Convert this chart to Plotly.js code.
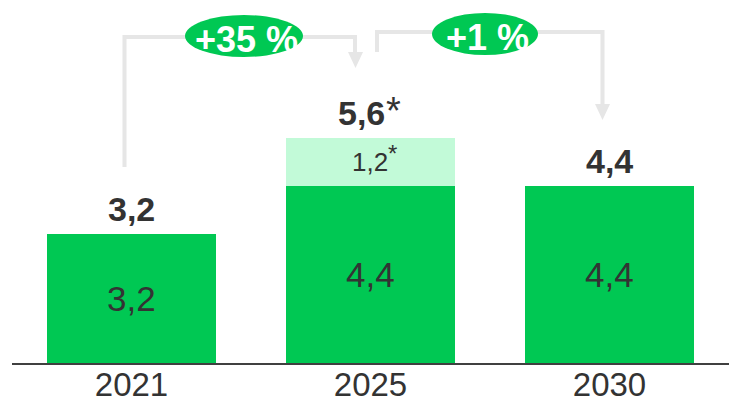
<!DOCTYPE html>
<html>
<head>
<meta charset="utf-8">
<script src="https://cdn.plot.ly/plotly-3.0.1.min.js"></script>
<style>
  html, body { margin: 0; padding: 0; background: #ffffff; }
  #chart { width: 729px; height: 403px; }
</style>
</head>
<body>
<div id="chart"></div>
<script>
// ---- data ----
const categories = ['2021', '2025', '2030'];
const baseValues = [3.2, 4.4, 4.4];
const addedValues = [0, 1.2, 0];
const totalValues = [3.2, 5.6, 4.4];
const totalMarks = ['', '*', ''];
const addedMarks = ['', '*', ''];
const growthLabels = ['+35 %', '+1 %'];

// ---- styles ----
const GREEN = '#00C853';
const LIGHT = '#C2FAD8';
const TEXT = '#333333';
const GREY = '#E6E6E6';
const FONT = 'Liberation Sans, Arial, sans-serif';

const W = 729, H = 403;
const M = {l: 12, r: 0, t: 0, b: 40};
const YMAX = 9.03;
const plotW = W - M.l - M.r, plotH = H - M.t - M.b;
// pixel -> data helpers for decorations
const X = px => (px - M.l) / (plotW / categories.length) - 0.5;
const Y = py => (H - M.b - py) / plotH * YMAX;

const fmt = v => v.toFixed(1).replace('.', ',');

const traces = [
  {type: 'bar', x: categories, y: baseValues, width: 0.707,
   marker: {color: GREEN}, hoverinfo: 'none'},
  {type: 'bar', x: categories, y: addedValues, width: 0.707,
   marker: {color: LIGHT}, hoverinfo: 'none'}
];

const annotations = [];
categories.forEach((c, i) => {
  annotations.push({xref: 'x', yref: 'y', x: i, y: baseValues[i] / 2, text: fmt(baseValues[i]),
    showarrow: false, font: {family: FONT, size: 35, color: TEXT}});
  if (addedValues[i] > 0) {
    const hasMark = !!addedMarks[i];
    annotations.push({xref: 'x', yref: 'y', x: i, y: baseValues[i] + addedValues[i] / 2,
      xshift: hasMark ? -1 : 0,
      text: fmt(addedValues[i]),
      showarrow: false, font: {family: FONT, size: 26, color: TEXT}});
    if (hasMark) {
      annotations.push({xref: 'x', yref: 'y', x: i, y: baseValues[i] + addedValues[i] / 2,
        xanchor: 'left', xshift: 15, yshift: 9, text: addedMarks[i],
        showarrow: false, font: {family: FONT, size: 24, color: TEXT}});
    }
  }
  const hasTotalMark = !!totalMarks[i];
  annotations.push({xref: 'x', yref: 'y', x: i, y: totalValues[i], yanchor: 'bottom', yshift: 4,
    xshift: hasTotalMark ? -9 : 0,
    text: '<b>' + fmt(totalValues[i]) + '</b>',
    showarrow: false, font: {family: FONT, size: 34, color: TEXT}});
  if (hasTotalMark) {
    annotations.push({xref: 'x', yref: 'y', x: i, y: totalValues[i], yanchor: 'bottom', yshift: 4,
      xanchor: 'left', xshift: 13, text: totalMarks[i],
      showarrow: false, font: {family: FONT, size: 38, color: TEXT}});
  }
});

// growth ellipses
const ellipses = [
  {x0: 185, x1: 303, y0: 15, y1: 57},
  {x0: 432, x1: 538, y0: 13, y1: 55}
];
const shapes = [];
// connectors
shapes.push({type: 'path', xref: 'x', yref: 'y', layer: 'above',
  path: `M ${X(124.5)},${Y(167)} L ${X(124.5)},${Y(37)} L ${X(355)},${Y(37)} L ${X(355)},${Y(54)}`,
  line: {color: GREY, width: 4}});
shapes.push({type: 'path', xref: 'x', yref: 'y', layer: 'above',
  path: `M ${X(348)},${Y(52)} L ${X(363)},${Y(52)} L ${X(355.5)},${Y(68)} Z`,
  fillcolor: GREY, line: {color: GREY, width: 0}});
shapes.push({type: 'path', xref: 'x', yref: 'y', layer: 'above',
  path: `M ${X(377)},${Y(52)} L ${X(377)},${Y(32)} L ${X(602.5)},${Y(32)} L ${X(602.5)},${Y(106)}`,
  line: {color: GREY, width: 4}});
shapes.push({type: 'path', xref: 'x', yref: 'y', layer: 'above',
  path: `M ${X(595)},${Y(104)} L ${X(610)},${Y(104)} L ${X(602.5)},${Y(120)} Z`,
  fillcolor: GREY, line: {color: GREY, width: 0}});

ellipses.forEach((e, i) => {
  shapes.push({type: 'circle', xref: 'x', yref: 'y', layer: 'above',
    x0: X(e.x0), x1: X(e.x1), y0: Y(e.y1), y1: Y(e.y0),
    fillcolor: GREEN, line: {width: 0}});
  annotations.push({x: (X(e.x0) + X(e.x1)) / 2 + 0.01, y: (Y(e.y0) + Y(e.y1)) / 2 - 0.08,
    xref: 'x', yref: 'y', text: '<b>' + growthLabels[i] + '</b>', showarrow: false,
    font: {family: FONT, size: 36, color: '#ffffff'}});
});

const layout = {
  width: W, height: H,
  margin: M,
  paper_bgcolor: '#ffffff', plot_bgcolor: '#ffffff',
  barmode: 'stack',
  showlegend: false,
  xaxis: {type: 'category', range: [-0.5, 2.5], showgrid: false, zeroline: false,
    showline: true, linecolor: '#404040', linewidth: 2, ticks: '',
    ticklabelstandoff: -9,
    tickfont: {family: FONT, size: 33, color: TEXT}, fixedrange: true},
  yaxis: {range: [0, YMAX], visible: false, fixedrange: true},
  shapes: shapes,
  annotations: annotations
};

Plotly.newPlot('chart', traces, layout, {displayModeBar: false, staticPlot: true});
</script>
</body>
</html>
